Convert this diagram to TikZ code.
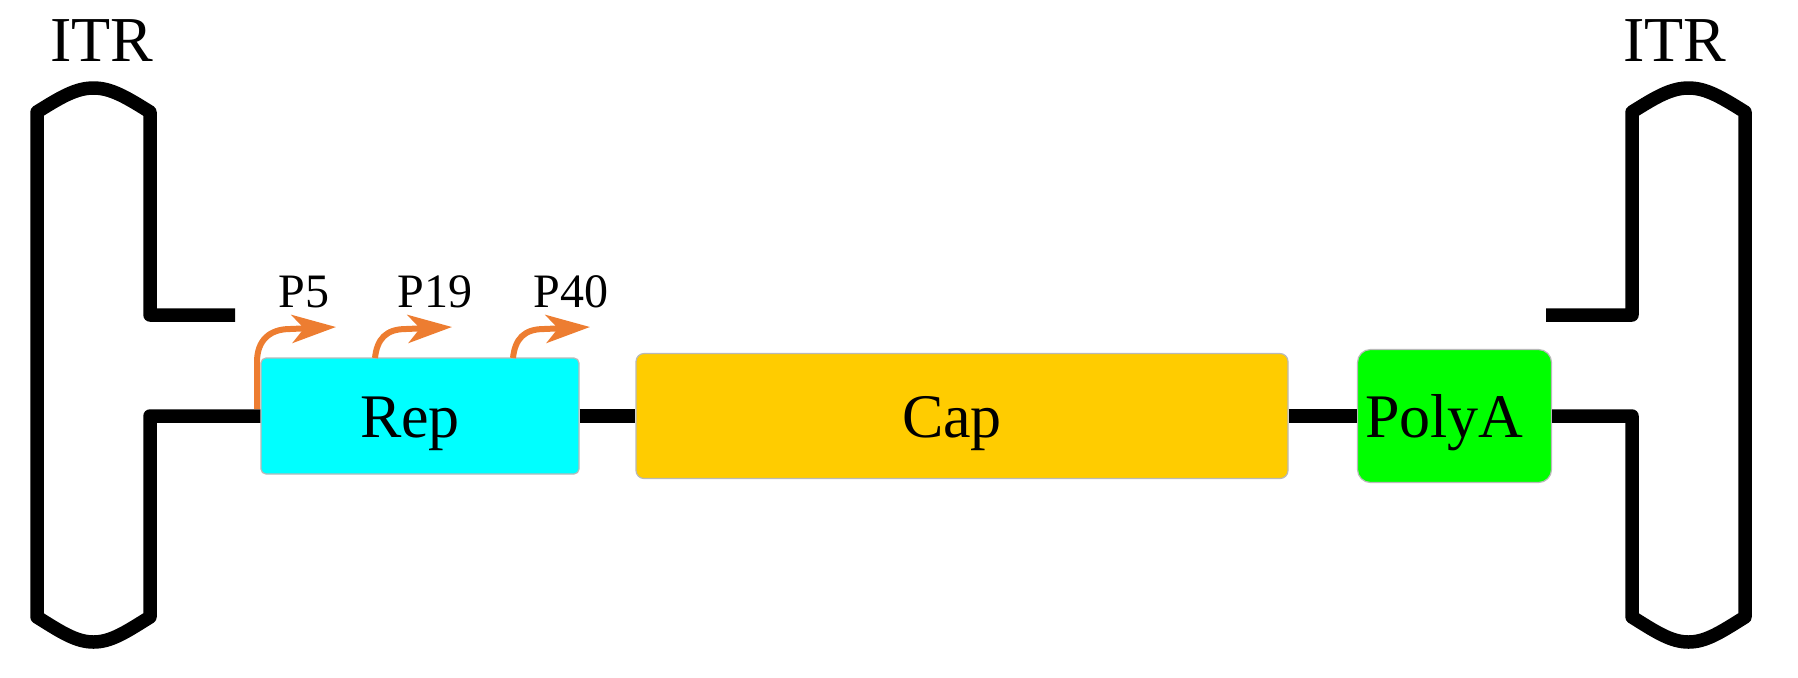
\documentclass[tikz,border=0pt]{standalone}
\usepackage{fontspec}
\setmainfont{Liberation Serif}
\usetikzlibrary{arrows.meta}
\definecolor{repcyan}{RGB}{0,255,255}
\definecolor{capgold}{RGB}{255,204,0}
\definecolor{polygreen}{RGB}{0,255,0}
\definecolor{promorange}{RGB}{237,125,49}
\tikzset{
  dna/.style={line width=6.75pt,line join=round},
  gene/.style={draw=gray!55,line width=0.6pt,inner sep=0pt,text height=21.7pt,text depth=0pt,
    font=\fontsize{31}{37}\selectfont,execute at begin node=\kern-5pt,execute at end node=\kern5pt},
  promoter/.style={promorange,line width=3pt,-{Stealth[length=22pt,width=14pt,inset=6pt]}},
  plabel/.style={anchor=base,font=\fontsize{24}{29}\selectfont},
  itrlabel/.style={anchor=base,font=\fontsize{32}{38}\selectfont}
}
\begin{document}
\begin{tikzpicture}[x=0.5pt,y=-0.5pt]
\useasboundingbox (0,0) rectangle (1798,677);
%the three blocks on the strand
\node[gene,fill=repcyan,rounded corners=2.5pt,minimum width=159pt,minimum height=58pt] (rep) at (420,416) {Rep};
\node[gene,fill=capgold,rounded corners=4pt,minimum width=326pt,minimum height=62.5pt] (cap) at (962,416) {Cap};
\node[gene,fill=polygreen,rounded corners=6.5pt,minimum width=97pt,minimum height=66.5pt] (polya) at (1454.5,416) {PolyA};
\draw[dna] (rep.east) -- (cap.west);
\draw[dna] (cap.east) -- (polya.west);
%left ITR hairpin
\coordinate (larm) at (235,315);
\draw[dna] (larm) -- (150,315) -- (150,112)
  .. controls (126,97) and (111,88) .. (93.5,88)
  .. controls (76,88) and (61,97) .. (37,112) -- (37,617)
  .. controls (61,632) and (76,642) .. (93.5,642)
  .. controls (111,642) and (126,632) .. (150,617) -- (150,416) -- (rep.west);
\node[itrlabel] (litr) at (102,61) {ITR};
%right ITR hairpin
\coordinate (rarm) at (1546,315);
\draw[dna] (rarm) -- (1632,315) -- (1632,112)
  .. controls (1656,97) and (1671,88) .. (1688.5,88)
  .. controls (1706,88) and (1721,97) .. (1745,112) -- (1745,617)
  .. controls (1721,632) and (1706,642) .. (1688.5,642)
  .. controls (1671,642) and (1656,632) .. (1632,617) -- (1632,416) -- (polya.east);
\node[itrlabel] (ritr) at (1675,61) {ITR};
%promoters
\coordinate (p5s) at (257,409);
\coordinate (p5t) at (336,327);
\coordinate (p19s) at (375,358);
\coordinate (p19t) at (452,327);
\coordinate (p40s) at (513,358);
\coordinate (p40t) at (590,327);
\draw[promoter] (p5s) -- (257,362) .. controls +(0,-22) and +(-20,0) .. (290,329) -- (p5t);
\draw[promoter] (p19s) .. controls +(2,-19) and +(-20,0) .. (406,329) -- (p19t);
\draw[promoter] (p40s) .. controls +(2,-19) and +(-20,0) .. (544,329) -- (p40t);
\node[plabel] (p5) at (304,307) {P5};
\node[plabel] (p19) at (435,307) {P19};
\node[plabel] (p40) at (571,307) {P40};
\end{tikzpicture}
\end{document}
